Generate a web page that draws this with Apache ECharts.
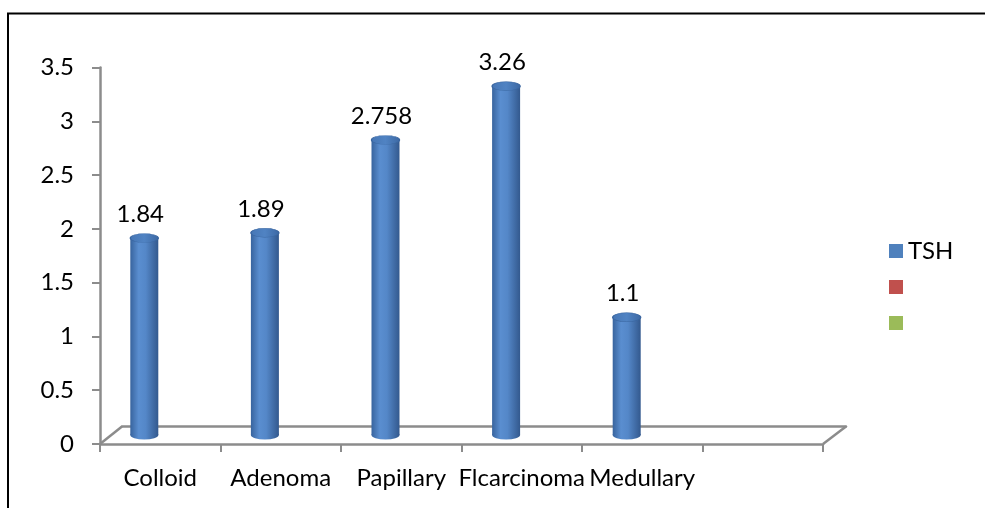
<!DOCTYPE html>
<html>
<head>
<meta charset="utf-8">
<script src="https://cdn.jsdelivr.net/npm/echarts@6/dist/echarts.min.js"></script>
<style>
html,body{margin:0;padding:0;background:#fff;}
#chart{width:985px;height:508px;}
</style>
</head>
<body>
<div id="chart"></div>
<script>
const categories = ['Colloid', 'Adenoma', 'Papillary', 'Flcarcinoma', 'Medullary', ''];
const tshValues = [1.84, 1.89, 2.758, 3.26, 1.1];
const seriesNames = ['TSH', 'Series2', 'Series3'];
const seriesColors = ['#4f81bd', '#c0504d', '#9bbb59'];
const yTicks = { min: 0, max: 3.5, interval: 0.5 };

const FONT = 'Lato';
const FS = 24;
const AXIS_GRAY = '#8c8c8c';

const chart = echarts.init(document.getElementById('chart'), null, { renderer: 'canvas' });

const barGrad = new echarts.graphic.LinearGradient(0, 0, 1, 0, [
  { offset: 0, color: '#38649e' },
  { offset: 0.3, color: '#5a8ed0' },
  { offset: 0.55, color: '#5487c8' },
  { offset: 1, color: '#33598e' }
]);
const capGrad = new echarts.graphic.LinearGradient(0, 0, 1, 0, [
  { offset: 0, color: '#4676b5' },
  { offset: 0.5, color: '#5083c3' },
  { offset: 1, color: '#3c68a3' }
]);

const option = {
  backgroundColor: '#ffffff',
  animation: false,
  textStyle: { fontFamily: FONT },
  legend: {
    orient: 'vertical',
    left: 884,
    top: 234,
    icon: 'rect',
    itemWidth: 14,
    itemHeight: 14,
    itemGap: 12,
    data: seriesNames.map((n, i) => ({ name: n, itemStyle: { color: seriesColors[i], opacity: 1 } })),
    formatter: n => (n === 'TSH' ? n : ' '),
    textStyle: { fontFamily: FONT, fontSize: FS, color: '#000', lineHeight: 24 },
    selectedMode: false
  },
  graphic: [
    { type: 'rect', shape: { x: 8, y: 13.5, width: 1200, height: 700 }, style: { fill: 'none', stroke: '#000', lineWidth: 2 }, silent: true },
    { type: 'line', shape: { x1: 100, y1: 444, x2: 122, y2: 426.5 }, style: { stroke: AXIS_GRAY, lineWidth: 2.5 }, silent: true, z: 1 },
    { type: 'line', shape: { x1: 823, y1: 444, x2: 846, y2: 426.5 }, style: { stroke: AXIS_GRAY, lineWidth: 2.5 }, silent: true, z: 1 }
  ],
  grid: [
    { left: 100, right: 162, top: 67.5, bottom: 64, containLabel: false },
    { left: 122, right: 139, top: 50, bottom: 81.5, containLabel: false },
    { left: 84, right: 177.4, top: 60.5, bottom: 73, containLabel: false }
  ],
  xAxis: [
    {
      gridIndex: 0, type: 'category', data: categories, boundaryGap: true,
      axisLine: { show: true, lineStyle: { color: AXIS_GRAY, width: 2.5 } },
      axisTick: { show: true, alignWithLabel: false, length: 8, lineStyle: { color: AXIS_GRAY, width: 2 } },
      axisLabel: { interval: 0, hideOverlap: false, margin: 22, fontFamily: FONT, fontSize: FS, color: '#000', lineHeight: 24 },
      splitLine: { show: false }
    },
    {
      gridIndex: 1, type: 'category', data: categories, boundaryGap: true,
      axisLine: { show: true, lineStyle: { color: AXIS_GRAY, width: 2.5 } },
      axisTick: { show: false }, axisLabel: { show: false }, splitLine: { show: false }
    },
    {
      gridIndex: 2, type: 'category', data: categories, boundaryGap: true, show: false
    }
  ],
  yAxis: [
    {
      gridIndex: 0, type: 'value', min: yTicks.min, max: yTicks.max, interval: yTicks.interval,
      axisLine: { show: true, lineStyle: { color: AXIS_GRAY, width: 2.5 } },
      axisTick: { show: true, length: 8, lineStyle: { color: AXIS_GRAY, width: 2 } },
      axisLabel: { margin: 26, fontFamily: FONT, fontSize: FS, color: '#000' },
      splitLine: { show: false }
    },
    { gridIndex: 1, type: 'value', min: yTicks.min, max: yTicks.max, show: false, splitLine: { show: false } },
    { gridIndex: 2, type: 'value', min: yTicks.min, max: yTicks.max, show: false, splitLine: { show: false } }
  ],
  series: [
    {
      name: 'TSH', type: 'bar', xAxisIndex: 2, yAxisIndex: 2,
      data: tshValues, barWidth: 28, z: 3,
      itemStyle: { color: barGrad },
      label: {
        show: true, position: 'top', distance: 12, offset: [-4, 0],
        fontFamily: FONT, fontSize: FS, color: '#000', lineHeight: 24
      }
    },
    {
      name: 'TSH-top', type: 'scatter', xAxisIndex: 2, yAxisIndex: 2,
      data: tshValues, symbol: 'circle', symbolSize: [28, 9], z: 5,
      itemStyle: { color: capGrad, borderColor: '#3a66a0', borderWidth: 0.8, opacity: 1 },
      silent: true
    },
    {
      name: 'TSH-bottom', type: 'scatter', xAxisIndex: 2, yAxisIndex: 2,
      data: tshValues.map((v, i) => [categories[i], 0]), symbol: 'circle', symbolSize: [28, 9], z: 2,
      itemStyle: { color: barGrad, opacity: 1 },
      silent: true
    },
    { name: 'Series2', type: 'scatter', xAxisIndex: 2, yAxisIndex: 2, data: [], itemStyle: { color: seriesColors[1], opacity: 1 } },
    { name: 'Series3', type: 'scatter', xAxisIndex: 2, yAxisIndex: 2, data: [], itemStyle: { color: seriesColors[2], opacity: 1 } }
  ],
  color: seriesColors
};

chart.setOption(option);
</script>
</body>
</html>
